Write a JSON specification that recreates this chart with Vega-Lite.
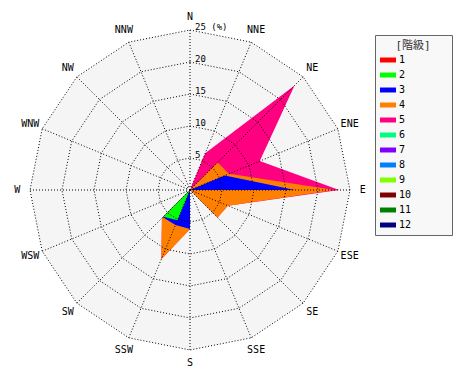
{
  "$schema": "https://vega.github.io/schema/vega-lite/v6.json",
  "width": 470,
  "height": 380,
  "autosize": "none",
  "padding": 0,
  "background": "white",
  "config": {"view": {"stroke": null}},
  "datasets": {
    "wind": [
      {"dir": "N", "ang": 0, "1": 0, "2": 0, "3": 0, "4": 0, "5": 0},
      {"dir": "NNE", "ang": 22.5, "1": 0, "2": 0, "3": 0, "4": 0, "5": 6.2},
      {"dir": "NE", "ang": 45, "1": 0, "2": 0, "3": 0, "4": 6.1, "5": 17.0},
      {"dir": "ENE", "ang": 67.5, "1": 0, "2": 0, "3": 5.9, "4": 0.7, "5": 5.2},
      {"dir": "E", "ang": 90, "1": 0, "2": 0, "3": 16.4, "4": 6.2, "5": 0.7},
      {"dir": "ESE", "ang": 112.5, "1": 0, "2": 0, "3": 0, "4": 6.4, "5": 0},
      {"dir": "SE", "ang": 135, "1": 0, "2": 0, "3": 6.0, "4": 0.1, "5": 0},
      {"dir": "SSE", "ang": 157.5, "1": 0, "2": 0, "3": 0, "4": 0, "5": 0},
      {"dir": "S", "ang": 180, "1": 0, "2": 0, "3": 6.1, "4": 0, "5": 0},
      {"dir": "SSW", "ang": 202.5, "1": 0, "2": 5.1, "3": 0.8, "4": 5.8, "5": 0},
      {"dir": "SW", "ang": 225, "1": 0, "2": 5.9, "3": 0.1, "4": 0.2, "5": 0},
      {"dir": "WSW", "ang": 247.5, "1": 0, "2": 0, "3": 0, "4": 0, "5": 0},
      {"dir": "W", "ang": 270, "1": 0, "2": 0, "3": 0, "4": 0, "5": 0},
      {"dir": "WNW", "ang": 292.5, "1": 0, "2": 0, "3": 0, "4": 0, "5": 0},
      {"dir": "NW", "ang": 315, "1": 0, "2": 0, "3": 0, "4": 0, "5": 0},
      {"dir": "NNW", "ang": 337.5, "1": 0, "2": 0, "3": 0, "4": 0, "5": 0}
    ],
    "rings": [
      {"ring": 5, "label": "5", "ang": [0, 22.5, 45, 67.5, 90, 112.5, 135, 157.5, 180, 202.5, 225, 247.5, 270, 292.5, 315, 337.5]},
      {"ring": 10, "label": "10", "ang": [0, 22.5, 45, 67.5, 90, 112.5, 135, 157.5, 180, 202.5, 225, 247.5, 270, 292.5, 315, 337.5]},
      {"ring": 15, "label": "15", "ang": [0, 22.5, 45, 67.5, 90, 112.5, 135, 157.5, 180, 202.5, 225, 247.5, 270, 292.5, 315, 337.5]},
      {"ring": 20, "label": "20", "ang": [0, 22.5, 45, 67.5, 90, 112.5, 135, 157.5, 180, 202.5, 225, 247.5, 270, 292.5, 315, 337.5]},
      {"ring": 25, "label": "25 (%)", "ang": [0, 22.5, 45, 67.5, 90, 112.5, 135, 157.5, 180, 202.5, 225, 247.5, 270, 292.5, 315, 337.5]}
    ]
  },
  "layer": [
    {
      "data": {"name": "rings"},
      "transform": [
        {"filter": "datum.ring == 25"},
        {"flatten": ["ang"]},
        {"calculate": "datum.ring * sin(datum.ang * PI / 180)", "as": "px"},
        {"calculate": "datum.ring * cos(datum.ang * PI / 180)", "as": "py"}
      ],
      "mark": {"type": "line", "interpolate": "linear-closed", "fill": "#f5f5f5", "strokeWidth": 0},
      "encoding": {
        "x": {"field": "px", "type": "quantitative", "scale": {"domain": [-29.6875, 43.75], "nice": false, "zero": false}, "axis": null},
        "y": {"field": "py", "type": "quantitative", "scale": {"domain": [-29.6875, 29.6875], "nice": false, "zero": false}, "axis": null},
        "order": {"field": "ang", "type": "quantitative"}
      }
    },
    {
      "data": {"name": "wind"},
      "transform": [
        {"fold": ["1", "2", "3", "4", "5"], "as": ["cls", "v"]},
        {"window": [{"op": "sum", "field": "v", "as": "cum"}], "groupby": ["dir"], "sort": [{"field": "cls", "order": "ascending"}], "frame": [null, 0]},
        {"calculate": "datum.cum * sin(datum.ang * PI / 180)", "as": "px"},
        {"calculate": "datum.cum * cos(datum.ang * PI / 180)", "as": "py"}
      ],
      "layer": [
        {"transform": [{"filter": "datum.cls == '5'"}], "mark": {"type": "line", "filled": true, "interpolate": "linear-closed", "strokeWidth": 0}},
        {"transform": [{"filter": "datum.cls == '4'"}], "mark": {"type": "line", "filled": true, "interpolate": "linear-closed", "strokeWidth": 0}},
        {"transform": [{"filter": "datum.cls == '3'"}], "mark": {"type": "line", "filled": true, "interpolate": "linear-closed", "strokeWidth": 0}},
        {"transform": [{"filter": "datum.cls == '2'"}], "mark": {"type": "line", "filled": true, "interpolate": "linear-closed", "strokeWidth": 0}}
      ],
      "encoding": {
        "x": {"field": "px", "type": "quantitative", "scale": {"domain": [-29.6875, 43.75], "nice": false, "zero": false}, "axis": null},
        "y": {"field": "py", "type": "quantitative", "scale": {"domain": [-29.6875, 29.6875], "nice": false, "zero": false}, "axis": null},
        "order": {"field": "ang", "type": "quantitative"},
        "color": {
          "field": "cls",
          "type": "nominal",
          "scale": {
            "domain": ["1", "2", "3", "4", "5", "6", "7", "8", "9", "10", "11", "12"],
            "range": ["#ff0000", "#00ff00", "#0000ff", "#ff8000", "#ff0080", "#00ff80", "#8000ff", "#0080ff", "#80ff00", "#800000", "#008000", "#000080"]
          },
          "legend": {
            "orient": "none",
            "legendX": 375,
            "legendY": 35,
            "title": "[階級]",
            "titleFont": "DejaVu Sans Mono, Noto Sans CJK JP",
            "titleFontSize": 11,
            "titleFontWeight": "normal",
            "titleColor": "#333333",
            "titleAnchor": "middle",
            "titlePadding": 1,
            "padding": 5,
            "strokeColor": "#666666",
            "fillColor": "#f8f8f8",
            "symbolType": "M-1,-0.31H1V0.31H-1Z",
            "symbolSize": 256,
            "symbolStrokeWidth": 0,
            "symbolOpacity": 1,
            "labelFont": "DejaVu Sans Mono",
            "labelFontSize": 10,
            "labelColor": "black",
            "labelOffset": 3,
            "rowPadding": 2,
            "labelExpr": "datum.label + '\u2800\u2800\u2800\u2800\u2800'"
          }
        }
      }
    },
    {
      "data": {"name": "rings"},
      "transform": [
        {"flatten": ["ang"]},
        {"calculate": "datum.ring * sin(datum.ang * PI / 180)", "as": "px"},
        {"calculate": "datum.ring * cos(datum.ang * PI / 180)", "as": "py"}
      ],
      "mark": {"type": "line", "interpolate": "linear-closed", "color": "black", "strokeWidth": 1, "strokeDash": [1, 2]},
      "encoding": {
        "x": {"field": "px", "type": "quantitative", "scale": {"domain": [-29.6875, 43.75], "nice": false, "zero": false}, "axis": null},
        "y": {"field": "py", "type": "quantitative", "scale": {"domain": [-29.6875, 29.6875], "nice": false, "zero": false}, "axis": null},
        "detail": {"field": "ring", "type": "nominal"},
        "order": {"field": "ang", "type": "quantitative"}
      }
    },
    {
      "data": {"name": "wind"},
      "transform": [
        {"calculate": "0", "as": "ox"},
        {"calculate": "25 * sin(datum.ang * PI / 180)", "as": "ex"},
        {"calculate": "25 * cos(datum.ang * PI / 180)", "as": "ey"}
      ],
      "mark": {"type": "rule", "color": "black", "strokeWidth": 1, "strokeDash": [1, 2]},
      "encoding": {
        "x": {"field": "ox", "type": "quantitative", "scale": {"domain": [-29.6875, 43.75], "nice": false, "zero": false}, "axis": null},
        "y": {"field": "ox", "type": "quantitative", "scale": {"domain": [-29.6875, 29.6875], "nice": false, "zero": false}, "axis": null},
        "x2": {"field": "ex"},
        "y2": {"field": "ey"}
      }
    },
    {
      "data": {"name": "wind"},
      "transform": [
        {"calculate": "27 * sin(datum.ang * PI / 180)", "as": "lx"},
        {"calculate": "27 * cos(datum.ang * PI / 180)", "as": "ly"}
      ],
      "mark": {"type": "text", "font": "DejaVu Sans Mono", "fontSize": 10, "color": "black", "align": "center", "baseline": "middle"},
      "encoding": {
        "x": {"field": "lx", "type": "quantitative", "scale": {"domain": [-29.6875, 43.75], "nice": false, "zero": false}, "axis": null},
        "y": {"field": "ly", "type": "quantitative", "scale": {"domain": [-29.6875, 29.6875], "nice": false, "zero": false}, "axis": null},
        "text": {"field": "dir", "type": "nominal"}
      }
    },
    {
      "data": {"name": "rings"},
      "transform": [{"calculate": "0.78", "as": "tx"}],
      "mark": {"type": "text", "font": "DejaVu Sans Mono", "fontSize": 9, "color": "black", "align": "left", "baseline": "alphabetic"},
      "encoding": {
        "x": {"field": "tx", "type": "quantitative", "scale": {"domain": [-29.6875, 43.75], "nice": false, "zero": false}, "axis": null},
        "y": {"field": "ring", "type": "quantitative", "scale": {"domain": [-29.6875, 29.6875], "nice": false, "zero": false}, "axis": null},
        "text": {"field": "label", "type": "nominal"}
      }
    }
  ]
}
